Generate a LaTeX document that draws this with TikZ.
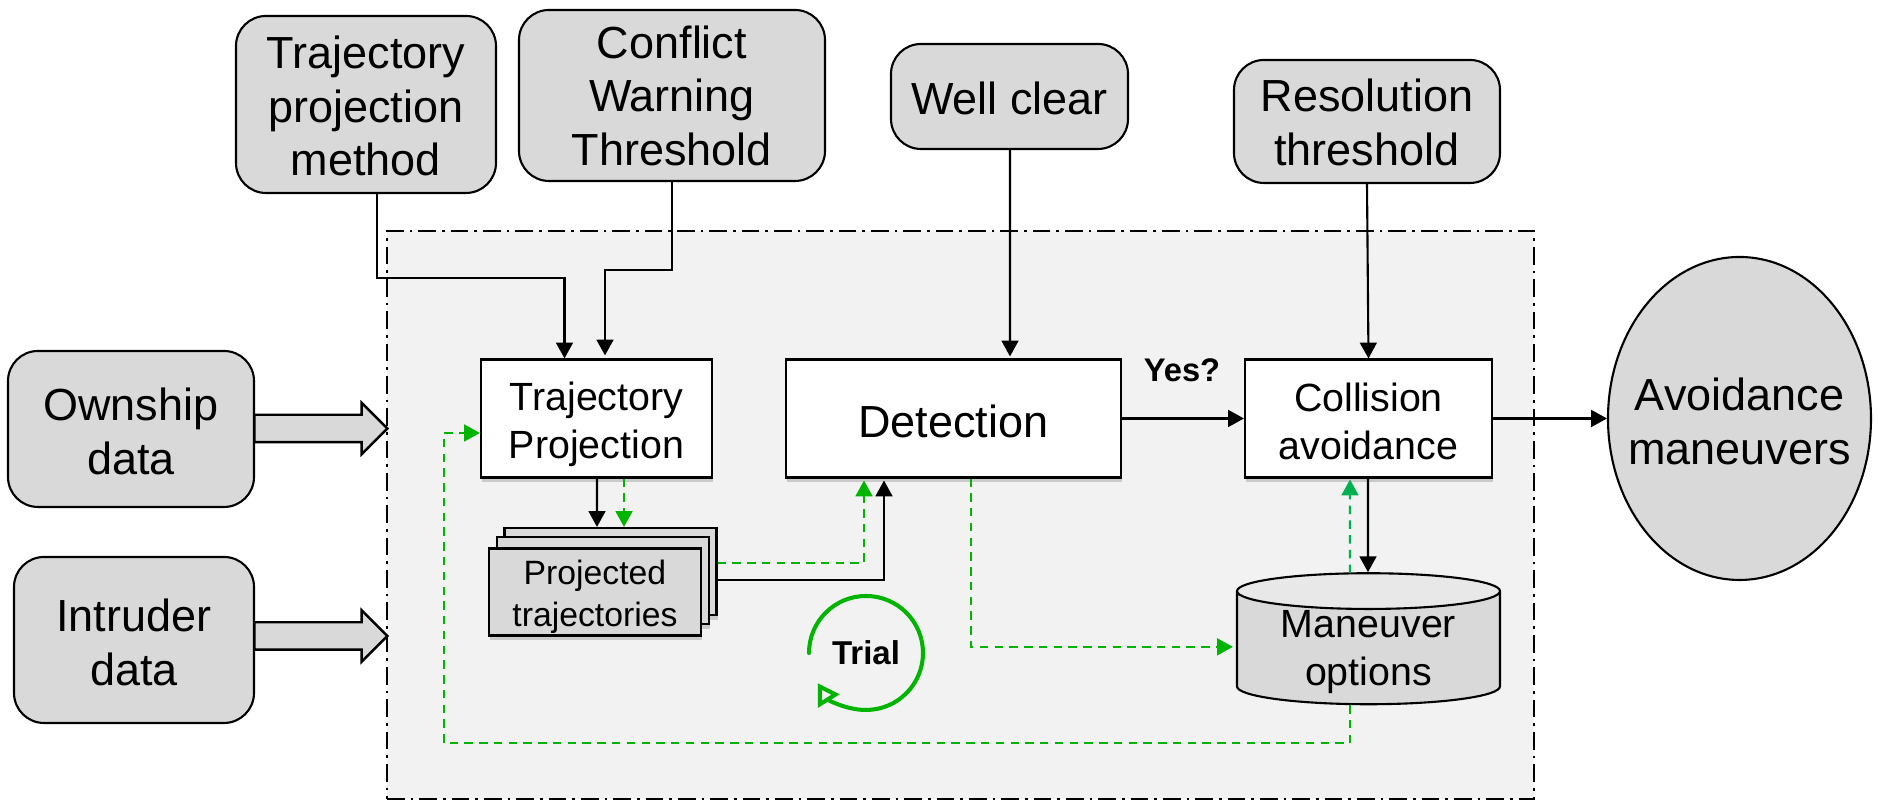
\documentclass[tikz,border=0pt]{standalone}
\usepackage{fontspec}
\setmainfont{Liberation Sans}
\usetikzlibrary{arrows.meta,shapes.geometric,shapes.arrows,shadows}
\definecolor{boxgray}{HTML}{D9D9D9}
\definecolor{panelgray}{HTML}{F2F2F2}
\definecolor{trialgreen}{HTML}{00B400}
\definecolor{optgreen}{HTML}{00B050}
\tikzset{
    bigtext/.style={font=\fontsize{12.8}{15.3}\selectfont, align=center},
    midtext/.style={font=\fontsize{11.2}{13.6}\selectfont, align=center},
    inputbox/.style={draw, fill=boxgray, rounded corners=0.3cm, line width=0.6pt, bigtext},
    procbox/.style={draw, fill=white, line width=0.6pt, inner ysep=1pt, minimum height=1.18cm,
        drop shadow={shadow xshift=0.3pt, shadow yshift=-1.3pt, opacity=0.35}},
    sheet/.style={draw, fill=boxgray, line width=0.6pt, inner sep=0pt, minimum width=2.12cm, minimum height=0.87cm,
        drop shadow={shadow xshift=0.3pt, shadow yshift=-1.3pt, opacity=0.35}},
    blockarrow/.style={draw, fill=boxgray, line width=0.7pt, single arrow, inner xsep=0pt, inner ysep=0.125cm,
        single arrow head extend=0.12cm, minimum height=1.33cm},
    link/.style={-{Triangle[length=4.5pt, width=4.8pt]}, line width=0.6pt},
    trylink/.style={link, trialgreen, dash pattern=on 2.4pt off 1.8pt},
}
\begin{document}
\begin{tikzpicture}
    \useasboundingbox (0, 0) rectangle (18.78, 8.01);

    %Painel
    \node (panel) at (9.605, 2.86) [draw, fill=panelgray, line width=0.8pt, minimum width=11.47cm, minimum height=5.68cm,
        dash pattern=on 5pt off 1.7pt on 0.8pt off 1.7pt] {};

    %Entradas
    \node (method) at (3.66, 6.965) [inputbox, text height=40.7pt, minimum width=2.6cm, minimum height=1.77cm] {Trajectory\\projection\\method};
    \node (conflict) at (6.72, 7.055) [inputbox, text height=40.1pt, minimum width=3.06cm, minimum height=1.71cm] {Conflict\\Warning\\Threshold};
    \node (wellclear) at (10.095, 7.045) [inputbox, text height=10.2pt, minimum width=2.37cm, minimum height=1.05cm] {Well clear};
    \node (resolution) at (13.67, 6.795) [inputbox, text height=25.2pt, minimum width=2.66cm, minimum height=1.23cm] {Resolution\\threshold};
    \node (ownship) at (1.31, 3.72) [inputbox, text height=26.1pt, minimum width=2.46cm, minimum height=1.56cm] {Ownship\\data};
    \node (intruder) at (1.34, 1.61) [inputbox, text height=26.1pt, minimum width=2.4cm, minimum height=1.66cm] {Intruder\\data};

    %Setas largas
    \node (ownarrow) at (3.14, 3.725) [blockarrow] {};
    \node (intarrow) at (3.14, 1.65) [blockarrow] {};

    %Blocos
    \node (traj) at (5.965, 3.825) [procbox, midtext, text height=25.2pt, minimum width=2.31cm] {Trajectory\\Projection};
    \node (detect) at (9.535, 3.825) [procbox, bigtext, text height=10.8pt, minimum width=3.35cm] {Detection};
    \node (avoid) at (13.685, 3.825) [procbox, midtext, text height=23.2pt, minimum width=2.47cm] {Collision\\avoidance};
    \node (back) at (6.105, 2.295) [sheet] {};
    \node (middle) at (6.03, 2.205) [sheet] {};
    \node (front) at (5.95, 2.09) [sheet, font=\fontsize{9.6}{11.8}\selectfont, align=center, text height=21.6pt] {Projected\\trajectories};
    \node (options) at (13.685, 1.491) [draw, cylinder, shape border rotate=90, aspect=0.18, line width=0.6pt, inner ysep=0pt,
        cylinder uses custom fill, cylinder body fill=boxgray, cylinder end fill=boxgray!60!white,
        minimum width=2.63cm, minimum height=1.31cm, midtext] {Maneuver\\options};
    \node (goal) at (17.395, 3.825) [draw, ellipse, fill=boxgray, line width=0.6pt, inner sep=-0.3cm,
        minimum width=2.63cm, minimum height=3.23cm, bigtext, text height=26.1pt] {Avoidance\\maneuvers};

    %Textos
    \node (yes) at (11.82, 4.31) {\fontsize{9.3}{11}\selectfont\bfseries Yes?};
    \node (trial) at (8.66, 1.48) {\fontsize{9.4}{11}\selectfont\bfseries Trial};

    %Flechas
    \draw[link] ([xshift=0.11cm]method.south) -- ++(0, -0.84) -| ([xshift=-0.32cm]traj.north);
    \draw[link] (conflict.south) -- ++(0, -0.88) -| ([xshift=0.085cm, yshift=0.03cm]traj.north);
    \draw[link] ([xshift=0.005cm]wellclear.south) -- ([xshift=0.565cm, yshift=0.02cm]detect.north);
    \draw[link] (resolution.south) -- (avoid.north);
    \draw[link] (detect.east) -- (avoid.west);
    \draw[link] (avoid.east) -- (goal.west);
    \draw[link] ([xshift=0.005cm]traj.south) -- ([xshift=-0.135cm]back.north);
    \draw[link] ([xshift=-0.005cm]avoid.south) -- ([xshift=-0.005cm]options.north);
    \draw[link] ([yshift=-0.085cm]back.east) -| ([xshift=-0.695cm, yshift=-0.02cm]detect.south);

    %Tentativas
    \draw[trylink] ([xshift=0.275cm]traj.south) -- ([xshift=0.135cm]back.north);
    \draw[trylink] ([yshift=0.085cm]back.east) -| ([xshift=-0.895cm, yshift=-0.02cm]detect.south);
    \draw[trylink] ([xshift=0.175cm]detect.south) |- ([xshift=-0.03cm, yshift=0.05cm]options.west);
    \draw[trylink] ([xshift=-0.185cm]options.south) -- ++(0, -0.38) -| (4.44, 3.68) -- (traj.west |- 0, 3.68);
    \draw[link, optgreen, dash pattern=on 2.4pt off 1.8pt] ([xshift=-0.185cm, yshift=-0.01cm]options.north) -- ([xshift=-0.185cm, yshift=-0.01cm]avoid.south);

    %Ciclo
    \draw[trialgreen, line width=1.15pt, line cap=round, -{Triangle[open, fill=panelgray, length=6pt, width=7pt]}]
        (trial.center) ++(180:0.57) arc[start angle=180, end angle=-148, radius=0.57];
\end{tikzpicture}
\end{document}
